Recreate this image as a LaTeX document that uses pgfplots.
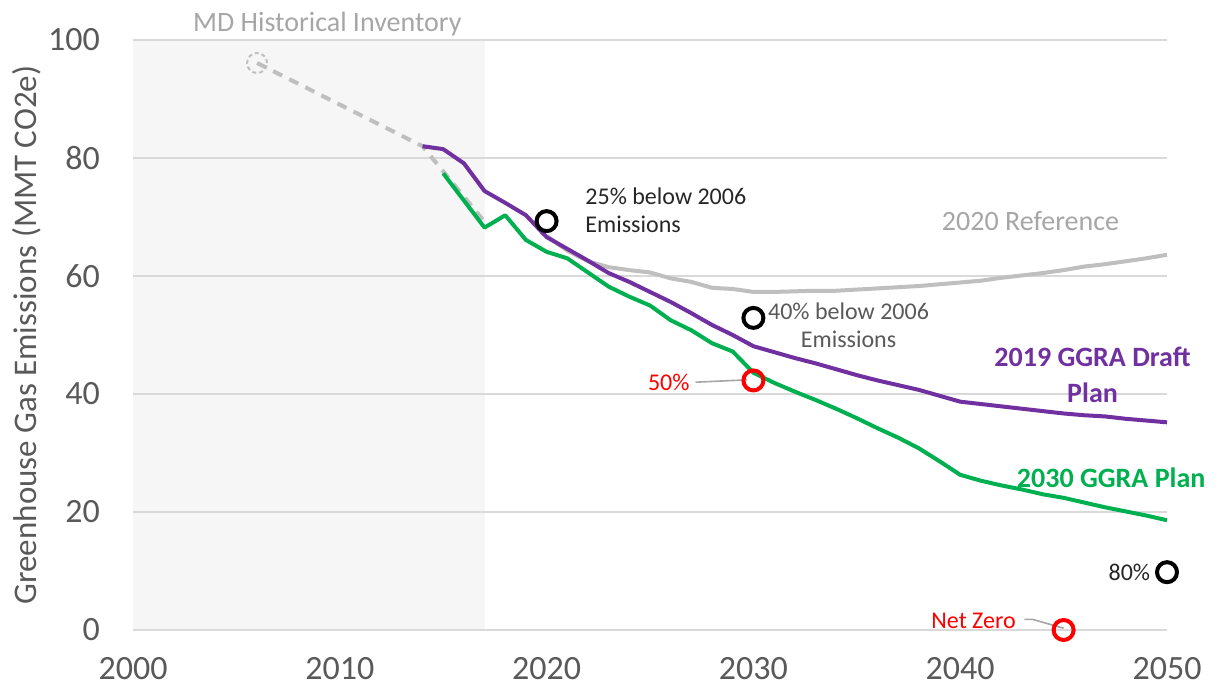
\documentclass[border=0pt]{standalone}
\usepackage{pgfplots}
\pgfplotsset{compat=1.18}
\usepackage{fontspec}
\setmainfont{Carlito}
\definecolor{ggpurple}{HTML}{7030A0}
\definecolor{gggreen}{HTML}{00B050}
\definecolor{refgray}{HTML}{BFBFBF}
\definecolor{gridgray}{HTML}{D9D9D9}
\definecolor{shade}{HTML}{F6F6F6}
\definecolor{tickgray}{HTML}{595959}
\definecolor{labelgray}{HTML}{A6A6A6}
\definecolor{textblack}{HTML}{262626}
\definecolor{leader}{HTML}{A6A6A6}
\begin{document}
\begin{tikzpicture}
\begin{axis}[
  set layers,
  scale only axis, width=517pt, height=295pt,
  xmin=2000, xmax=2050, ymin=0, ymax=100,
  xtick={2000,2010,2020,2030,2040,2050},
  ytick={0,20,40,60,80,100},
  axis line style={draw=none},
  major tick length=0pt,
  ymajorgrids, grid style={color=gridgray, line width=1pt},
  tick label style={font=\fontsize{17}{20}\selectfont, color=tickgray},
  /pgf/number format/assume math mode=true,
  xticklabel style={/pgf/number format/1000 sep={}, yshift=-10pt},
  yticklabel style={xshift=-13pt},
  ylabel={Greenhouse Gas Emissions (MMT CO2e)},
  ylabel style={at={(axis description cs:-0.1025,0.5)}, anchor=center,
    font=\fontsize{16.5}{19}\selectfont, color=tickgray, inner sep=0pt},
  clip=false,
]
% shaded historical region
\addplot[fill=shade, draw=none, on layer=axis background] coordinates {(2000,100) (2017,100)} \closedcycle;

% 2020 Reference
\addplot[refgray, line width=2pt, line join=round] coordinates {
(2020,66.8) (2021,64.3) (2022,62.5) (2023,61.5) (2024,61.0) (2025,60.6)
(2026,59.6) (2027,59.0) (2028,58.0) (2029,57.8) (2030,57.3) (2031,57.3)
(2032,57.4) (2033,57.5) (2034,57.5) (2035,57.7) (2036,57.9) (2037,58.1)
(2038,58.3) (2039,58.6) (2040,58.9) (2041,59.2) (2042,59.7) (2043,60.1)
(2044,60.5) (2045,61.0) (2046,61.6) (2047,62.0) (2048,62.5) (2049,63.0) (2050,63.6)};

% MD historical inventory
\addplot[refgray, line width=2pt, dash pattern=on 5pt off 4pt] coordinates {
(2006,96.1) (2014,82.0) (2017,69.2)};

% 2019 GGRA Draft Plan
\addplot[ggpurple, line width=2pt, line join=round] coordinates {
(2014,82.0) (2015,81.5) (2016,79.1) (2017,74.4) (2018,72.4) (2019,70.3)
(2020,66.6) (2021,64.6) (2022,62.6) (2023,60.5) (2024,59.0) (2025,57.3)
(2026,55.6) (2027,53.7) (2028,51.7) (2029,50.0) (2030,48.1) (2031,47.1)
(2032,46.1) (2033,45.2) (2034,44.2) (2035,43.2) (2036,42.3) (2037,41.5)
(2038,40.7) (2039,39.7) (2040,38.7) (2041,38.3) (2042,37.9) (2043,37.5)
(2044,37.1) (2045,36.7) (2046,36.4) (2047,36.2) (2048,35.8) (2049,35.5) (2050,35.2)};

% 2030 GGRA Plan
\addplot[gggreen, line width=2pt, line join=round] coordinates {
(2015,77.4) (2016,72.8) (2017,68.2) (2018,70.3) (2019,66.1) (2020,64.1)
(2021,63.0) (2022,60.6) (2023,58.2) (2024,56.5) (2025,55.0) (2026,52.5)
(2027,50.8) (2028,48.6) (2029,47.2) (2030,43.6) (2031,41.9) (2032,40.4)
(2033,39.0) (2034,37.5) (2035,35.9) (2036,34.2) (2037,32.6) (2038,30.8)
(2039,28.6) (2040,26.3) (2041,25.3) (2042,24.5) (2043,23.8) (2044,23.0)
(2045,22.4) (2046,21.6) (2047,20.8) (2048,20.1) (2049,19.4) (2050,18.6)};

% leader lines
\draw[leader, line width=0.8pt] (2027.2,42.0) -- (2029.7,42.4);
\draw[leader, line width=0.8pt] (2043.1,1.8) -- (2043.5,1.8) -- (2045,0.3);

% target markers
\addplot[only marks, mark=o, mark size=5pt, mark options={line width=2pt, draw=black}] coordinates {(2020,69.3) (2030,52.9) (2050,9.8)};
\addplot[only marks, mark=o, mark size=5pt, mark options={line width=2pt, draw=red}] coordinates {(2030,42.3) (2045,0)};
\addplot[only marks, mark=o, mark size=5pt, mark options={line width=1pt, draw=refgray, dash pattern=on 2pt off 1.5pt}] coordinates {(2006,96.1)};

% labels
\node[anchor=west, align=left, inner sep=0pt, text=textblack, font=\fontsize{12}{14}\selectfont] at (2021.86,71.2) {25\% below 2006\\Emissions};
\node[align=center, inner sep=0pt, text=tickgray, font=\fontsize{12}{14}\selectfont] at (2034.6,51.7) {40\% below 2006\\Emissions};
\node[anchor=east, inner sep=0pt, text=red, font=\fontsize{12}{14}\selectfont] at (2026.93,41.9) {50\%};
\node[anchor=east, inner sep=0pt, text=textblack, font=\fontsize{12}{14}\selectfont] at (2049.2,9.8) {80\%};
\node[anchor=east, inner sep=0pt, text=red, font=\fontsize{12}{14}\selectfont] at (2042.7,1.5) {Net Zero};
\node[inner sep=0pt, text=labelgray, font=\fontsize{14}{17}\selectfont] at (2043.4,69.3) {2020 Reference};
\node[align=center, inner sep=0pt, text=ggpurple, font=\bfseries\fontsize{14}{18}\selectfont] at (2046.4,43.2) {2019 GGRA Draft\\Plan};
\node[inner sep=0pt, text=gggreen, font=\bfseries\fontsize{14}{17}\selectfont] at (2047.3,25.8) {2030 GGRA Plan};
\node[inner sep=0pt, text=labelgray, font=\fontsize{14}{17}\selectfont] at (2009.4,102.7) {MD Historical Inventory};
\end{axis}
\path (-66.5pt,-31pt) rectangle (541pt,315pt);
\end{tikzpicture}
\end{document}
